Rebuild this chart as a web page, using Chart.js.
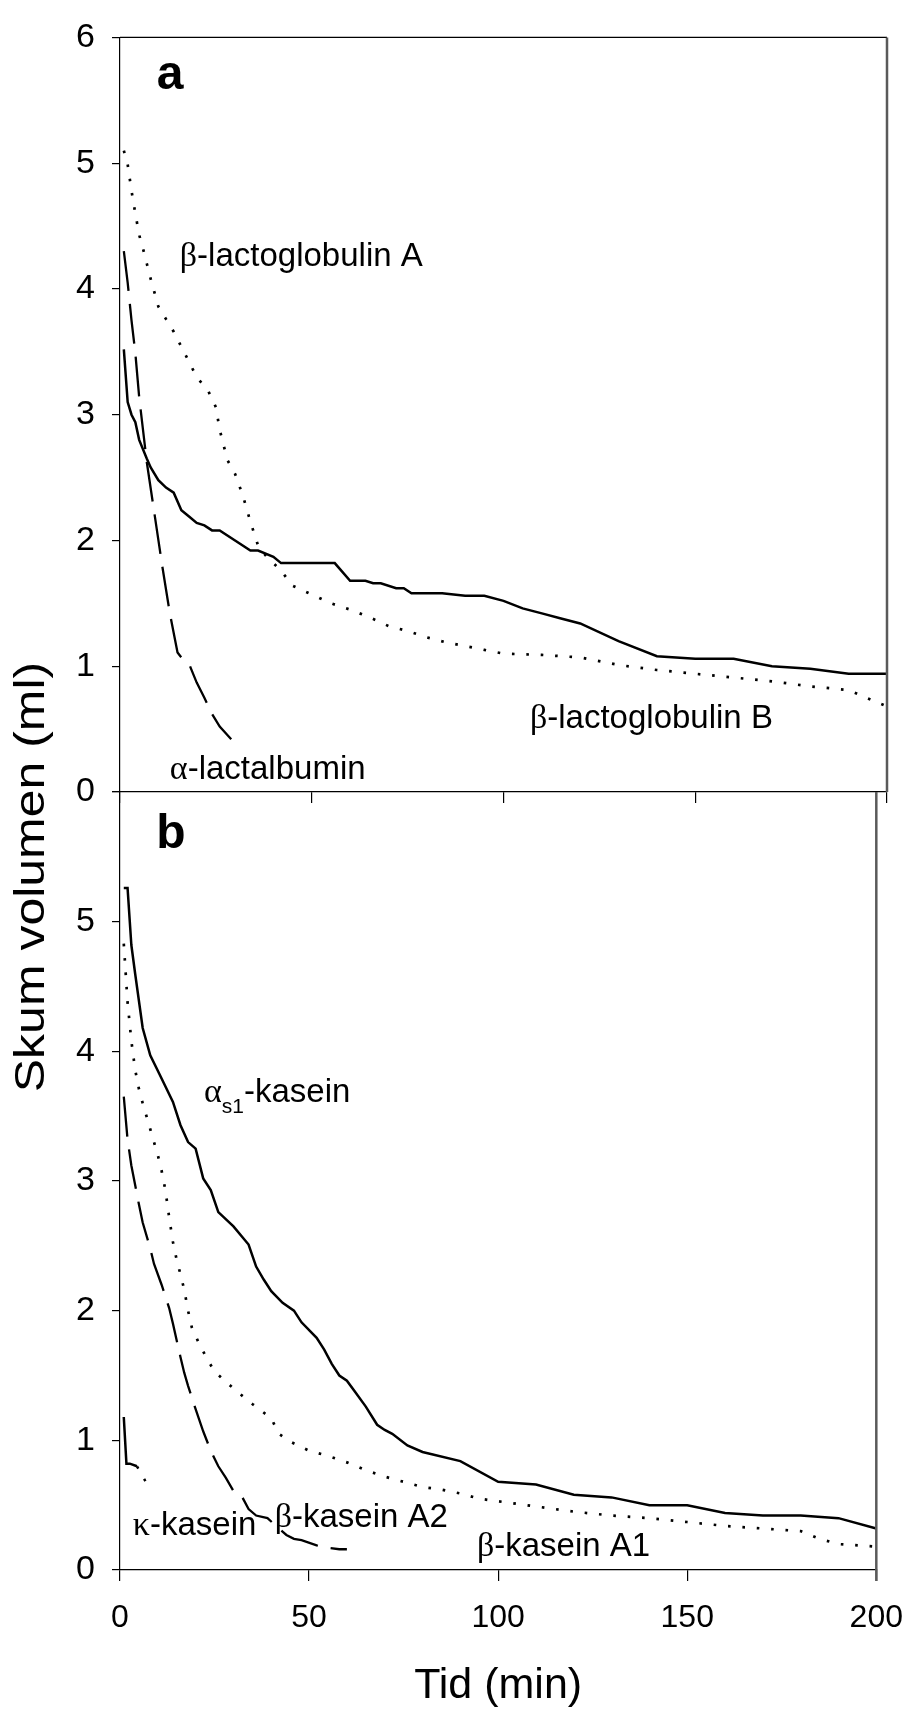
<!DOCTYPE html>
<html>
<head>
<meta charset="utf-8">
<script src="https://cdn.jsdelivr.net/npm/chart.js@4.4.1/dist/chart.umd.min.js"></script>
<style>
    html, body { margin: 0; padding: 0; background: #fff; }
    #wrap { position: relative; width: 921px; height: 1711px; }
    #wrap canvas { position: absolute; left: 0; top: 0; }
</style>
</head>
<body>
<div id="wrap">
    <canvas id="panelA" width="921" height="1711"></canvas>
    <canvas id="panelB" width="921" height="1711"></canvas>
</div>
<script>
// panel a - whey proteins (time in min, foam volume in ml)
const lgA_t = [1,2,3,4,5,6,7,8,9,10,12,14,16,18,20,23,25,26,28,30,32,34,36,38,42,45,50,55,60,65,70,75,80,85,90,95,100,110,120,130,140,150,160,170,180,190,200];
const lgA_v = [5.10,4.99,4.78,4.60,4.43,4.32,4.20,4.08,3.97,3.86,3.76,3.66,3.54,3.42,3.30,3.19,3.06,2.88,2.64,2.53,2.36,2.15,1.96,1.88,1.76,1.64,1.57,1.50,1.45,1.39,1.32,1.28,1.23,1.19,1.16,1.13,1.10,1.09,1.07,1.01,0.97,0.94,0.91,0.88,0.84,0.81,0.68];

const lgB_t = [1,2,3,4,5,7,8,10,12,14,16,18,20,22,24,26,30,34,36,40,42,56,60,64,66,68,72,74,76,84,90,95,100,105,110,115,120,130,140,150,160,170,180,190,200];
const lgB_v = [3.52,3.10,3.00,2.94,2.80,2.65,2.58,2.48,2.42,2.38,2.24,2.19,2.14,2.12,2.08,2.08,2.00,1.92,1.92,1.87,1.82,1.82,1.68,1.68,1.66,1.66,1.62,1.62,1.58,1.58,1.56,1.56,1.52,1.46,1.42,1.38,1.34,1.20,1.08,1.06,1.06,1.00,0.98,0.94,0.94];

const laAlb_t = [1,2,3,4,5,6,7,9,11,13,15,16,18,20,22,24,26,29];
const laAlb_v = [4.30,4.05,3.75,3.49,3.14,2.88,2.62,2.21,1.80,1.42,1.11,1.07,1.02,0.87,0.75,0.62,0.52,0.42];

// panel b - caseins
const as1_t = [1,2,3,4,6,8,11,14,16,18,20,22,24,26,30,34,36,38,40,43,46,48,52,54,56,58,60,62,65,68,70,72,76,80,90,100,110,120,130,140,150,160,170,180,190,200];
const as1_v = [5.26,5.26,4.82,4.60,4.18,3.97,3.79,3.61,3.43,3.30,3.25,3.02,2.93,2.76,2.65,2.51,2.34,2.24,2.15,2.06,2.00,1.91,1.79,1.70,1.59,1.50,1.46,1.38,1.26,1.12,1.08,1.05,0.96,0.91,0.84,0.68,0.66,0.58,0.56,0.50,0.50,0.44,0.42,0.42,0.40,0.32];

const bA1_t = [1,2,3,4,5,6,7,8,9,10,11,12,13,14,15,16,17,18,19,21,23,25,30,35,40,42,45,50,55,60,65,70,75,80,85,90,95,100,110,120,130,140,150,160,170,180,185,190,200];
const bA1_v = [4.83,4.38,4.08,3.86,3.71,3.60,3.50,3.40,3.30,3.20,3.08,2.93,2.72,2.53,2.39,2.28,2.16,2.00,1.87,1.74,1.63,1.53,1.40,1.28,1.17,1.05,0.99,0.92,0.88,0.83,0.77,0.72,0.68,0.64,0.62,0.59,0.55,0.53,0.49,0.45,0.42,0.40,0.37,0.34,0.32,0.30,0.24,0.20,0.18];

const bA2_t = [1,2,3,5,6,8,9,11,13,14,16,17,18,20,22,24,26,28,30,32,34,36,39,42,44,46,48,52,54,58,60];
const bA2_v = [3.65,3.32,3.12,2.82,2.68,2.48,2.36,2.20,2.02,1.90,1.64,1.52,1.42,1.24,1.07,0.92,0.80,0.71,0.61,0.58,0.47,0.42,0.40,0.32,0.27,0.24,0.23,0.19,0.175,0.16,0.16];

const kap_t = [1,1.7,2.6,4.5,8];
const kap_v = [1.18,0.82,0.82,0.80,0.62];

const xTicks = [0, 50, 100, 150, 200];
const yTicks = [0, 1, 2, 3, 4, 5, 6];

const W = 921, H = 1711;
const LEFT = 120, RIGHT_PAD = 34;
const A_TOP = 26, MID = 792, B_BOTTOM = 1570;

const SANS = '"Liberation Sans", Arial, Helvetica, sans-serif';
const SERIF = '"Liberation Serif", "Times New Roman", serif';

function pts(ts, vs) {
    return ts.map((t, i) => ({ x: t, y: vs[i] }));
}

const DOT = [2.6, 11.8];
const DASH = [40, 13];

function line(data, kind) {
    const ds = {
        data: data,
        borderColor: '#000',
        borderWidth: kind === 'solid' ? 2.5 : (kind === 'dot' ? 2.7 : 2.3),
        pointRadius: 0,
        tension: 0,
        fill: false,
        borderCapStyle: 'butt'
    };
    if (kind === 'dot') ds.borderDash = DOT;
    if (kind === 'dash') ds.borderDash = DASH;
    return ds;
}

function drawRich(ctx, x, y, parts) {
    let cx = x;
    parts.forEach(p => {
        ctx.font = p.f;
        ctx.fillText(p.s, cx, y + (p.dy || 0));
        cx += ctx.measureText(p.s).width;
    });
}

function framePlugin(notes, withTop, tail, extra) {
    return {
        id: 'frame',
        afterDraw(chart) {
            const ctx = chart.ctx, a = chart.chartArea;
            const xs = chart.scales.x, ys = chart.scales.y;
            ctx.save();
            if (withTop) {
                ctx.strokeStyle = '#000';
                ctx.lineWidth = 1.2;
                ctx.beginPath();
                ctx.moveTo(a.left, a.top);
                ctx.lineTo(a.right, a.top);
                ctx.stroke();
            }
            ctx.strokeStyle = '#5a5a5a';
            ctx.lineWidth = 2.5;
            ctx.beginPath();
            ctx.moveTo(a.right, a.top);
            ctx.lineTo(a.right, a.bottom + tail);
            ctx.stroke();

            ctx.fillStyle = '#000';
            ctx.textAlign = 'left';
            ctx.textBaseline = 'alphabetic';
            notes.forEach(n => drawRich(ctx, xs.getPixelForValue(n.t), ys.getPixelForValue(n.v), n.parts));
            if (extra) extra(chart, ctx);
            ctx.restore();
        }
    };
}

const f = (size, fam, w) => (w || '') + ' ' + size + 'px ' + fam;

const notesA = [
    { t: 9.6, v: 5.59, parts: [{ s: 'a', f: f(48, SANS, 'bold') }] },
    { t: 15.6, v: 4.18, parts: [{ s: 'β', f: f(34, SERIF) }, { s: '-lactoglobulin A', f: f(33, SANS) }] },
    { t: 13.0, v: 0.10, parts: [{ s: 'α', f: f(34, SERIF) }, { s: '-lactalbumin', f: f(33, SANS) }] },
    { t: 106.9, v: 0.51, parts: [{ s: 'β', f: f(34, SERIF) }, { s: '-lactoglobulin B', f: f(33, SANS) }] }
];

const notesB = [
    { t: 9.6, v: 5.57, parts: [{ s: 'b', f: f(48, SANS, 'bold') }] },
    { t: 22.2, v: 3.61, parts: [{ s: 'α', f: f(34, SERIF) }, { s: 's1', f: f(21, SANS), dy: 11 }, { s: '-kasein', f: f(33, SANS) }] },
    { t: 3.4, v: 0.27, parts: [{ s: 'κ', f: f(34, SERIF) }, { s: '-kasein', f: f(33, SANS) }] },
    { t: 40.9, v: 0.33, parts: [{ s: 'β', f: f(34, SERIF) }, { s: '-kasein A2', f: f(33, SANS) }] },
    { t: 94.4, v: 0.11, parts: [{ s: 'β', f: f(34, SERIF) }, { s: '-kasein A1', f: f(33, SANS) }] }
];

function titles(chart, ctx) {
    const a = chart.chartArea;
    ctx.fillStyle = '#000';
    ctx.font = f(43, SANS);
    ctx.textAlign = 'center';
    ctx.fillText('Tid (min)', (a.left + a.right) / 2, 1698);

    ctx.save();
    ctx.translate(44, 877);
    ctx.rotate(-Math.PI / 2);
    ctx.scale(1.19, 1);
    ctx.font = f(42, SANS);
    ctx.textAlign = 'center';
    ctx.fillText('Skum volumen (ml)', 0, 0);
    ctx.restore();
}

function yScale(hideTop) {
    return {
        type: 'linear',
        min: 0,
        max: 6,
        afterFit: s => { s.width = LEFT; },
        afterBuildTicks: s => { s.ticks = yTicks.map(v => ({ value: v })); },
        ticks: {
            color: '#000',
            padding: 17,
            font: { family: SANS, size: 34 },
            callback: v => (hideTop && v === 6) ? '' : String(v)
        },
        grid: { drawOnChartArea: false, drawTicks: true, tickLength: 8, color: '#000', lineWidth: 1.2 },
        border: { display: true, color: '#000', width: 1.2 }
    };
}

function xScale(showLabels, height) {
    return {
        type: 'linear',
        min: 0,
        max: 200,
        afterFit: s => { s.height = height; },
        afterBuildTicks: s => { s.ticks = xTicks.map(v => ({ value: v })); },
        ticks: {
            display: showLabels,
            color: '#000',
            padding: 18,
            maxRotation: 0,
            font: { family: SANS, size: 32 }
        },
        grid: { drawOnChartArea: false, drawTicks: true, tickLength: 11, color: '#000', lineWidth: 1.2 },
        border: { display: true, color: '#000', width: 1.2 }
    };
}

const baseOpts = {
    responsive: false,
    animation: false,
    devicePixelRatio: 1,
    plugins: { legend: { display: false }, tooltip: { enabled: false } },
    events: []
};

new Chart(document.getElementById('panelA').getContext('2d'), {
    type: 'line',
    data: {
        datasets: [
            line(pts(lgA_t, lgA_v), 'dot'),
            line(pts(lgB_t, lgB_v), 'solid'),
            line(pts(laAlb_t, laAlb_v), 'dash')
        ]
    },
    options: Object.assign({}, baseOpts, {
        layout: { padding: { top: A_TOP, left: 0, right: RIGHT_PAD, bottom: H - MID - 18 } },
        scales: { x: xScale(false, 18), y: yScale(false) }
    }),
    plugins: [framePlugin(notesA, true, 0)]
});

const kapData = line(pts(kap_t, kap_v), 'solid');
kapData.segment = { borderDash: c => c.p0DataIndex >= 3 ? DOT : undefined };

new Chart(document.getElementById('panelB').getContext('2d'), {
    type: 'line',
    data: {
        datasets: [
            line(pts(as1_t, as1_v), 'solid'),
            line(pts(bA1_t, bA1_v), 'dot'),
            line(pts(bA2_t, bA2_v), 'dash'),
            kapData
        ]
    },
    options: Object.assign({}, baseOpts, {
        layout: { padding: { top: MID, left: 0, right: RIGHT_PAD, bottom: H - B_BOTTOM - 70 } },
        scales: { x: xScale(true, 70), y: yScale(true) }
    }),
    plugins: [framePlugin(notesB, false, 11, titles)]
});
</script>
</body>
</html>
